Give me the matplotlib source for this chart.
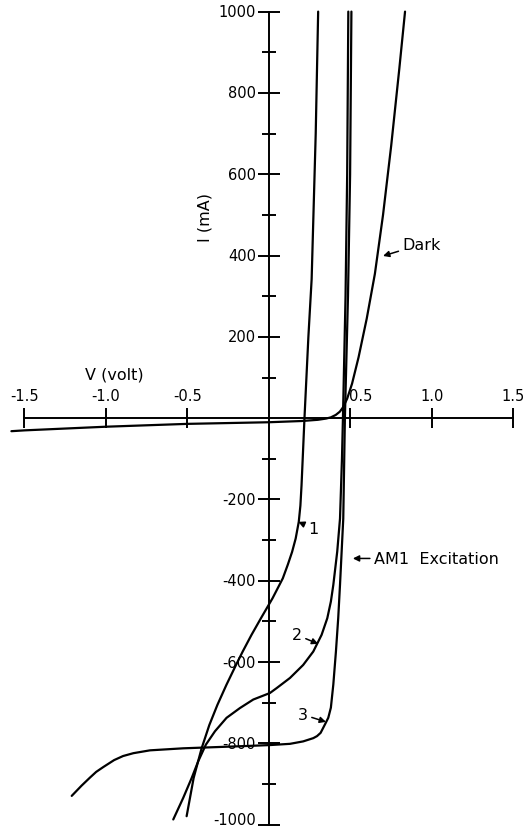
import matplotlib
matplotlib.use("Agg")
import matplotlib.pyplot as plt

# I-V curves, V in volt, I in mA
dark_v = [-1.58, -1.5, -1.0, -0.5, 0.0, 0.2, 0.3, 0.35, 0.38, 0.41, 0.435,
          0.455, 0.48, 0.51, 0.55, 0.60, 0.65, 0.70, 0.75, 0.80, 0.835]
dark_i = [-32, -30, -21, -14, -10, -7, -4, -1, 2, 8, 16,
          27, 48, 85, 150, 245, 355, 500, 670, 860, 1000]

c1_v = [0.302, 0.287, 0.262, 0.242, 0.230, 0.218, 0.209, 0.200, 0.193, 0.183,
        0.164, 0.142, 0.116, 0.085, 0.022, -0.049, -0.107, -0.161, -0.202,
        -0.261, -0.316, -0.366, -0.413, -0.462, -0.505]
c1_i = [1000, 700, 342, 200, 100, 0, -83, -165, -215, -255,
        -296, -329, -360, -394, -443, -492, -533, -574, -607,
        -656, -705, -755, -812, -885, -979]

c2_v = [0.487, 0.48, 0.47, 0.454, 0.448, 0.436, 0.419, 0.395, 0.380, 0.358,
        0.323, 0.272, 0.210, 0.129, 0.047, 0.006, -0.096, -0.178, -0.26,
        -0.331, -0.387, -0.434, -0.474, -0.526, -0.587]
c2_i = [1000, 600, 300, 0, -100, -247, -328, -410, -451, -492,
        -533, -574, -607, -639, -664, -676, -692, -713, -737,
        -770, -803, -844, -885, -934, -987]

c3_v = [0.506, 0.498, 0.485, 0.466, 0.456, 0.436, 0.425, 0.411, 0.395, 0.380,
        0.364, 0.344, 0.317, 0.295, 0.272, 0.210, 0.129, 0.006, -0.117, -0.321,
        -0.526, -0.730, -0.832, -0.895, -0.950, -1.016, -1.060, -1.098, -1.150,
        -1.21]
c3_i = [1000, 600, 300, 0, -247, -410, -492, -574, -655, -712,
        -737, -753, -774, -782, -787, -795, -801, -804, -806, -809,
        -812, -817, -824, -831, -841, -858, -870, -884, -904,
        -929]

x_ticks = [-1.5, -1.0, -0.5, 0.5, 1.0, 1.5]
x_labels = ["-1.5", "-1.0", "-0.5", "0.5", "1.0", "1.5"]
y_ticks = [1000, 800, 600, 400, 200, -200, -400, -600, -800, -1000]
y_minor = [900, 700, 500, 300, 100, -100, -300, -500, -700, -900]

plt.rcParams['font.family'] = ['DejaVu Sans']

fig = plt.figure(figsize=(5.25, 8.29), dpi=100)
ax = fig.add_axes([0, 0, 1, 1])
ax.set_xlim(-1.650, 1.571)
ax.set_ylim(-1008, 1031)

lw = 1.6
for v, i in [(dark_v, dark_i), (c1_v, c1_i), (c2_v, c2_i), (c3_v, c3_i)]:
    ax.plot(v, i, color='black', lw=lw, solid_capstyle='round',
            solid_joinstyle='round')

# axes through the origin
for s in ['top', 'right']:
    ax.spines[s].set_visible(False)
ax.spines['left'].set_position(('data', 0))
ax.spines['bottom'].set_position(('data', 0))
ax.spines['left'].set_bounds(-1000, 1000)
ax.spines['bottom'].set_bounds(-1.5, 1.5)
ax.spines['left'].set_linewidth(1.4)
ax.spines['bottom'].set_linewidth(1.4)
ax.set_xticks(x_ticks)
ax.set_yticks(y_ticks)
ax.set_yticks(y_minor, minor=True)
ax.tick_params(axis='x', direction='inout', length=15, width=1.4,
               labelbottom=False)
ax.tick_params(axis='y', which='major', direction='inout', length=16,
               width=1.4, labelleft=False)
ax.tick_params(axis='y', which='minor', direction='inout', length=10,
               width=1.4)

fs = 10.5
for v, lab in zip(x_ticks, x_labels):
    xv = 0.56 if v == 0.5 else v
    ax.text(xv, 55, lab, ha='center', va='center', fontsize=fs)
for i in y_ticks:
    yv = -988 if i == -1000 else i
    ax.text(-0.08, yv, str(i), ha='right', va='center', fontsize=fs)

ax.text(-0.951, 109, "V (volt)", ha='center', va='center', fontsize=11.5)
ax.text(-0.393, 495, "I (mA)", ha='center', va='center', fontsize=11.5,
        rotation=90)

arrow = dict(arrowstyle='-|>', color='black', lw=1.1, mutation_scale=9,
             shrinkA=1, shrinkB=0)
afs = 11.5
ax.annotate("Dark", xy=(0.70, 399), xytext=(0.82, 428), ha='left',
            va='center', fontsize=afs, arrowprops=arrow)
ax.annotate("AM1  Excitation", xy=(0.515, -345), xytext=(0.645, -345),
            ha='left', va='center', fontsize=afs, arrowprops=arrow)
ax.annotate("1", xy=(0.18, -255), xytext=(0.272, -271), ha='center',
            va='center', fontsize=afs, arrowprops=arrow)
ax.annotate("2", xy=(0.302, -555), xytext=(0.17, -533), ha='center',
            va='center', fontsize=afs, arrowprops=arrow)
ax.annotate("3", xy=(0.35, -747), xytext=(0.207, -729), ha='center',
            va='center', fontsize=afs, arrowprops=arrow)

fig.savefig("out.png", dpi=100)
